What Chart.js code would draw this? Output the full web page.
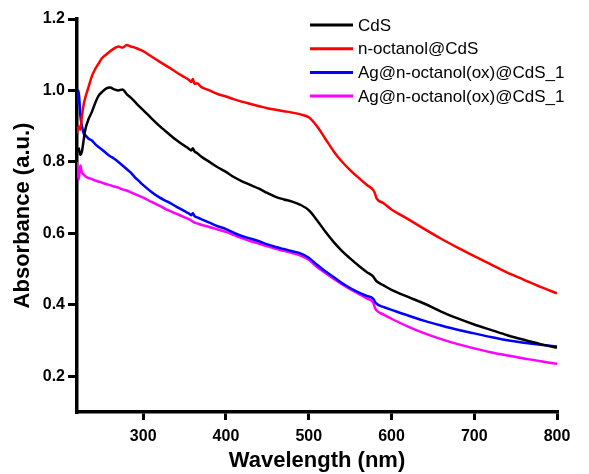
<!DOCTYPE html>
<html>
<head>
<meta charset="utf-8">
<script src="https://cdn.jsdelivr.net/npm/chart.js@4.4.1/dist/chart.umd.min.js"></script>
<style>
  html, body { margin: 0; padding: 0; background: #fff; }
  #wrap { width: 589px; height: 474px; }
</style>
</head>
<body>
<div id="wrap"><canvas id="c" width="589" height="474"></canvas></div>
<script>
// ---- data ----
const wavelength = [220, 222, 224, 226, 228, 230, 234, 238, 242, 246, 250, 255, 260, 265, 270, 275, 280, 285, 290, 295, 300, 310, 320, 330, 340, 350, 355, 358, 360, 362, 365, 370, 380, 390, 400, 410, 420, 430, 440, 450, 460, 470, 480, 490, 500, 510, 520, 530, 540, 550, 560, 570, 578, 580, 582, 590, 600, 620, 640, 660, 680, 700, 720, 740, 760, 780, 800];

const seriesLabels = ["CdS", "n-octanol@CdS", "Ag@n-octanol(ox)@CdS_1", "Ag@n-octanol(ox)@CdS_1"];

const cds = [null, 0.84, 0.82, 0.83, 0.86, 0.89, 0.92, 0.94, 0.965, 0.985, 0.995, 1.005, 1.008, 1.003, 1.0, 1.003, 0.99, 0.98, 0.968, 0.956, 0.945, 0.922, 0.9, 0.88, 0.861, 0.845, 0.837, 0.832, 0.838, 0.829, 0.825, 0.815, 0.8, 0.785, 0.772, 0.757, 0.745, 0.735, 0.725, 0.713, 0.702, 0.695, 0.689, 0.68, 0.665, 0.637, 0.605, 0.576, 0.551, 0.53, 0.51, 0.492, 0.479, 0.472, 0.466, 0.455, 0.442, 0.422, 0.403, 0.381, 0.362, 0.345, 0.33, 0.315, 0.302, 0.29, 0.28];

const octanolCdS = [0.88, 0.90, 0.89, 0.93, 0.96, 0.98, 1.01, 1.04, 1.06, 1.075, 1.09, 1.10, 1.11, 1.118, 1.123, 1.12, 1.127, 1.123, 1.12, 1.115, 1.11, 1.095, 1.08, 1.066, 1.051, 1.037, 1.03, 1.024, 1.032, 1.018, 1.02, 1.01, 1.0, 0.99, 0.983, 0.975, 0.968, 0.962, 0.956, 0.95, 0.946, 0.942, 0.938, 0.933, 0.925, 0.9, 0.865, 0.83, 0.801, 0.777, 0.756, 0.736, 0.721, 0.712, 0.698, 0.685, 0.667, 0.64, 0.612, 0.585, 0.56, 0.536, 0.513, 0.49, 0.47, 0.45, 0.432];

const agBlue = [0.96, 1.0, 0.93, 0.90, 0.88, 0.875, 0.865, 0.86, 0.85, 0.842, 0.835, 0.825, 0.816, 0.809, 0.80, 0.79, 0.78, 0.77, 0.757, 0.746, 0.735, 0.716, 0.70, 0.688, 0.675, 0.662, 0.656, 0.651, 0.656, 0.648, 0.645, 0.64, 0.63, 0.62, 0.612, 0.601, 0.592, 0.585, 0.578, 0.569, 0.562, 0.556, 0.55, 0.544, 0.532, 0.512, 0.494, 0.478, 0.461, 0.447, 0.435, 0.425, 0.417, 0.409, 0.403, 0.394, 0.386, 0.37, 0.355, 0.342, 0.33, 0.32, 0.31, 0.301, 0.294, 0.288, 0.283];

const agMagenta = [0.80, 0.75, 0.79, 0.77, 0.765, 0.76, 0.755, 0.752, 0.748, 0.745, 0.742, 0.738, 0.735, 0.731, 0.728, 0.723, 0.72, 0.715, 0.71, 0.705, 0.70, 0.688, 0.677, 0.665, 0.655, 0.645, 0.64, 0.636, 0.633, 0.63, 0.628, 0.624, 0.618, 0.611, 0.604, 0.595, 0.586, 0.578, 0.571, 0.564, 0.557, 0.551, 0.545, 0.538, 0.526, 0.506, 0.489, 0.473, 0.458, 0.444, 0.431, 0.418, 0.406, 0.392, 0.384, 0.373, 0.361, 0.339, 0.32, 0.304, 0.29, 0.278, 0.267, 0.258, 0.25, 0.242, 0.235];

const xTicks = [300, 400, 500, 600, 700, 800];
const yTicks = [0.2, 0.4, 0.6, 0.8, 1.0, 1.2];

const colors = ["#000000", "#ff0000", "#0000ff", "#ff00ff"];
const allSeries = [cds, octanolCdS, agBlue, agMagenta];

const FONT = "Arial, 'Liberation Sans', sans-serif";

function toPoints(vals) {
  return wavelength.map((w, i) => ({ x: w, y: vals[i] }));
}

const datasets = allSeries.map((vals, i) => ({
  label: seriesLabels[i],
  data: toPoints(vals),
  borderColor: colors[i],
  backgroundColor: colors[i],
  borderWidth: 2.5,
  pointRadius: 0,
  cubicInterpolationMode: 'monotone',
  spanGaps: false,
  fill: false
}));

const bgPlugin = {
  id: 'bg',
  beforeDraw(chart) {
    const ctx = chart.ctx;
    ctx.save();
    ctx.fillStyle = '#ffffff';
    ctx.fillRect(0, 0, chart.width, chart.height);
    ctx.restore();
  }
};

const legendPlugin = {
  id: 'customLegend',
  afterDraw(chart) {
    const ctx = chart.ctx;
    ctx.save();
    const x0 = 310, x1 = 353, tx = 358;
    const yStart = 25, dy = 23.7;
    ctx.font = "17px " + FONT;
    ctx.textBaseline = 'middle';
    ctx.textAlign = 'left';
    chart.data.datasets.forEach((ds, i) => {
      const y = yStart + i * dy;
      ctx.strokeStyle = ds.borderColor;
      ctx.lineWidth = 3;
      ctx.beginPath();
      ctx.moveTo(x0, y);
      ctx.lineTo(x1, y);
      ctx.stroke();
      ctx.fillStyle = '#000';
      ctx.fillText(ds.label, tx, y + 1);
    });
    ctx.restore();
  }
};

new Chart(document.getElementById('c'), {
  type: 'line',
  data: { datasets },
  plugins: [bgPlugin, legendPlugin],
  options: {
    responsive: false,
    animation: false,
    layout: { padding: { top: 19, right: 32, left: 0, bottom: 0 } },
    plugins: { legend: { display: false }, tooltip: { enabled: false } },
    scales: {
      x: {
        type: 'linear',
        min: 220,
        max: 800,
        afterBuildTicks(scale) { scale.ticks = xTicks.map(v => ({ value: v })); },
        afterFit(scale) { scale.height = 62; },
        border: { display: true, color: '#000', width: 3.5 },
        grid: { drawOnChartArea: false, drawTicks: true, tickLength: 8, color: '#000', lineWidth: 3 },
        ticks: { color: '#000', padding: 7, font: { family: FONT, size: 16, weight: 'bold' }, maxRotation: 0 },
        title: { display: true, text: 'Wavelength (nm)', color: '#000', padding: { top: 0, bottom: 2 }, font: { family: FONT, size: 22, weight: 'bold', lineHeight: 1.0 } }
      },
      y: {
        type: 'linear',
        min: 0.1,
        max: 1.2,
        afterBuildTicks(scale) { scale.ticks = yTicks.map(v => ({ value: v })); },
        afterFit(scale) { scale.width = 77; },
        border: { display: true, color: '#000', width: 3.5 },
        grid: { drawOnChartArea: false, drawTicks: true, tickLength: 9, color: '#000', lineWidth: 3 },
        ticks: { color: '#000', padding: 3, font: { family: FONT, size: 16, weight: 'bold' }, callback: v => v.toFixed(1) },
        title: { display: true, text: 'Absorbance (a.u.)', color: '#000', padding: { top: 10, bottom: 0 }, font: { family: FONT, size: 22, weight: 'bold', lineHeight: 1.2 } }
      }
    }
  }
});
</script>
</body>
</html>
